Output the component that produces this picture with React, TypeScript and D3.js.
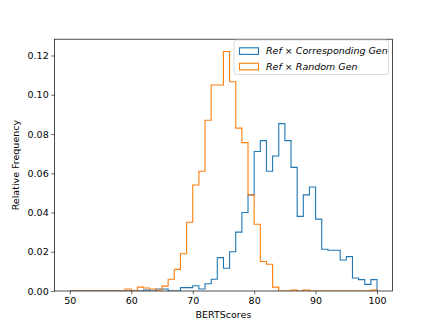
import React, { useEffect, useRef } from 'react';
import * as d3 from 'd3';

// bin lower edges 50..99, width 1
const BIN_START = 50;
const BIN_WIDTH = 1;

const corresponding = [
  0, 0, 0, 0, 0, 0, 0, 0, 0, 0,
  0, 0, 0.0005, 0, 0.001, 0.001, 0, 0, 0.0017, 0.0017,
  0.0027, 0.001, 0.0037, 0.006, 0.017, 0.0116, 0.02, 0.03, 0.04, 0.049,
  0.0711, 0.0766, 0.061, 0.0688, 0.0853, 0.0766, 0.063, 0.038, 0.049, 0.053,
  0.0366, 0.0213, 0.0208, 0.0208, 0.0158, 0.0175, 0.0066, 0.0058, 0.0034, 0.0058,
];

const random = [
  0, 0, 0, 0, 0, 0, 0, 0, 0, 0.001,
  0, 0.002, 0.0015, 0.001, 0.0005, 0.0025, 0.006, 0.011, 0.019, 0.035,
  0.054, 0.061, 0.087, 0.105, 0.105, 0.122, 0.1066, 0.083, 0.0756, 0.049,
  0.034, 0.015, 0.0136, 0.002, 0, 0, 0.0005, 0, 0.0005, 0,
  0, 0, 0, 0, 0, 0, 0, 0, 0, 0.0005,
];

const xTicks = [50, 60, 70, 80, 90, 100];
const yTicks = [0, 0.02, 0.04, 0.06, 0.08, 0.1, 0.12];

const BLUE = '#1f77b4';
const ORANGE = '#ff7f0e';
const FONT = 'DejaVu Sans, sans-serif';

const W = 436, H = 327;
const margin = { top: 39.2, right: 43.6, bottom: 36, left: 54.5 };

const App = () => {
  const svgRef = useRef<SVGSVGElement>(null);

  useEffect(() => {
    const svg = d3.select(svgRef.current);
    svg.selectAll('*').remove();

    const x0 = margin.left, x1 = W - margin.right;
    const y0 = H - margin.bottom, y1 = margin.top;

    const x = d3.scaleLinear().domain([47.5, 102.5]).range([x0, x1]);
    const y = d3.scaleLinear().domain([0, 0.1283]).range([y0, y1]);

    const stepPath = (vals: number[]) => {
      const pts: [number, number][] = [[BIN_START, 0]];
      vals.forEach((v, i) => {
        const a = BIN_START + i * BIN_WIDTH;
        pts.push([a, v], [a + BIN_WIDTH, v]);
      });
      pts.push([BIN_START + vals.length * BIN_WIDTH, 0]);
      return d3.line().x(d => x(d[0])).y(d => y(d[1]))(pts) as string;
    };

    svg.append('defs').append('clipPath').attr('id', 'clip')
      .append('rect').attr('x', x0).attr('y', y1).attr('width', x1 - x0).attr('height', y0 - y1);

    const plot = svg.append('g').attr('clip-path', 'url(#clip)');
    [[corresponding, BLUE], [random, ORANGE]].forEach(([vals, c]) => {
      plot.append('path')
        .attr('d', stepPath(vals as number[]))
        .attr('fill', 'none')
        .attr('stroke', c as string)
        .attr('stroke-width', 1.1)
        .attr('stroke-linejoin', 'miter');
    });

    // x axis
    const gx = svg.append('g').attr('transform', `translate(0,${y0})`)
      .call(d3.axisBottom(x).tickValues(xTicks).tickSize(3.3).tickPadding(2.5).tickFormat(d3.format('d')));
    gx.select('.domain').remove();
    gx.selectAll('.tick line').attr('stroke', '#000').attr('stroke-width', 0.6);
    gx.selectAll('.tick text').attr('fill', '#000').attr('font-size', 9.5).attr('font-family', FONT);

    // y axis
    const gy = svg.append('g').attr('transform', `translate(${x0},0)`)
      .call(d3.axisLeft(y).tickValues(yTicks).tickSize(3.3).tickPadding(2.5).tickFormat(d3.format('.2f')));
    gy.select('.domain').remove();
    gy.selectAll('.tick line').attr('stroke', '#000').attr('stroke-width', 0.6);
    gy.selectAll('.tick text').attr('fill', '#000').attr('font-size', 9.5).attr('font-family', FONT);

    // spines
    svg.append('rect')
      .attr('x', x0).attr('y', y1).attr('width', x1 - x0).attr('height', y0 - y1)
      .attr('fill', 'none').attr('stroke', '#000').attr('stroke-width', 0.7);

    svg.append('text')
      .attr('x', (x0 + x1) / 2).attr('y', 318)
      .attr('text-anchor', 'middle')
      .attr('font-size', 9.5).attr('font-family', FONT)
      .text('BERTScores');

    svg.append('text')
      .attr('transform', `translate(19,${(y0 + y1) / 2}) rotate(-90)`)
      .attr('text-anchor', 'middle')
      .attr('font-size', 9.5).attr('font-family', FONT)
      .text('Relative Frequency');

    // legend
    const lg = svg.append('g');
    lg.append('rect')
      .attr('x', 234).attr('y', 40).attr('width', 154.5).attr('height', 34.5)
      .attr('rx', 2.5)
      .attr('fill', '#fff').attr('fill-opacity', 0.8)
      .attr('stroke', '#cccccc').attr('stroke-width', 0.7);

    const items = [
      { c: BLUE, a: 'Corresponding', b: 'Gen' },
      { c: ORANGE, a: 'Random', b: 'Gen' },
    ];
    items.forEach((it, i) => {
      const cy = 51 + i * 15.5;
      lg.append('rect')
        .attr('x', 239.5).attr('y', cy - 3.2).attr('width', 19).attr('height', 6.6)
        .attr('fill', 'none').attr('stroke', it.c).attr('stroke-width', 1.1);
      const t = lg.append('text')
        .attr('x', 266).attr('y', cy + 3.4)
        .attr('font-size', 9.5).attr('font-family', FONT);
      t.append('tspan').attr('font-style', 'italic').text('Ref');
      t.append('tspan').text(' × ');
      t.append('tspan').attr('font-style', 'italic').text(`${it.a} ${it.b}`);
    });
  }, []);

  return (
    <div style={{ position: 'absolute', left: 0, top: 0, background: '#fff' }}>
      <svg ref={svgRef} width={W} height={H} style={{ display: 'block' }} />
    </div>
  );
};

export default App;
